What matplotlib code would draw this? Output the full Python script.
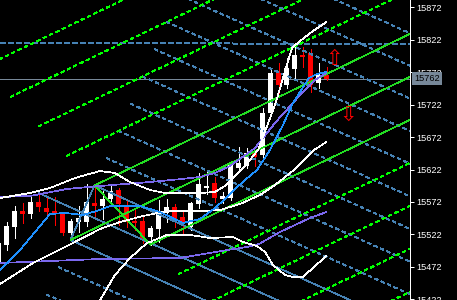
import matplotlib
matplotlib.use("Agg")
import matplotlib.pyplot as plt
import matplotlib.transforms as mtransforms
import numpy as np

# ---------------- data (bar index, prices) ----------------
opens = [15479.5, 15505.7, 15533.4, 15558.0, 15553.4, 15571.9, 15562.7, 15558.0, 15553.4, 15524.2,
         15541.1, 15541.1, 15570.4, 15565.8, 15576.5, 15590.4, 15567.3, 15542.6, 15542.6, 15518.0,
         15530.3, 15555.0, 15564.2, 15548.8, 15533.4, 15568.8, 15593.5, 15601.2, 15576.5, 15578.1,
         15624.3, 15627.4, 15647.4, 15644.4, 15709.1, 15770.7, 15752.2, 15776.9, 15798.5, 15801.5,
         15755.3, 15767.6]
highs = [15513.4, 15541.1, 15565.8, 15570.4, 15581.2, 15585.8, 15578.1, 15579.6, 15556.5, 15545.7,
         15565.8, 15599.7, 15597.4, 15592.0, 15596.6, 15593.5, 15575.0, 15562.7, 15548.8, 15534.9,
         15575.0, 15576.5, 15568.8, 15559.6, 15571.9, 15616.6, 15619.7, 15610.5, 15587.3, 15632.0,
         15656.7, 15655.1, 15652.1, 15716.8, 15778.4, 15786.1, 15793.8, 15817.0, 15810.8, 15807.7,
         15786.1, 15780.0]
lows = [15470.2, 15497.9, 15516.4, 15539.6, 15547.3, 15558.0, 15547.3, 15536.5, 15521.1, 15513.4,
        15525.7, 15534.9, 15545.7, 15545.7, 15570.4, 15536.5, 15533.4, 15528.8, 15508.7, 15506.4,
        15510.3, 15541.1, 15533.4, 15524.2, 15528.8, 15562.7, 15584.2, 15571.9, 15570.4, 15575.0,
        15621.3, 15624.3, 15627.4, 15639.7, 15706.0, 15739.9, 15747.6, 15760.0, 15780.0, 15741.4,
        15747.6, 15760.0]
closes = [15508.7, 15534.9, 15558.0, 15553.4, 15571.9, 15564.2, 15556.5, 15555.0, 15524.2, 15542.6,
          15547.3, 15571.9, 15565.8, 15576.5, 15588.9, 15568.8, 15541.1, 15539.6, 15513.4, 15531.9,
          15555.0, 15564.2, 15545.7, 15538.0, 15570.4, 15599.7, 15596.6, 15578.1, 15581.2, 15629.0,
          15632.0, 15647.4, 15641.3, 15709.1, 15770.7, 15752.2, 15778.4, 15798.5, 15795.4, 15752.2,
          15767.6, 15762.0]

# fast moving average (dodger blue)
ma_x = [0.19, 2.69, 5.19, 6.44, 8.31, 10.56, 12.69, 13.94, 17.69, 20.19, 23.06, 25.19, 27.06,
        28.31, 29.56, 30.81, 32.31, 33.94, 35.56, 36.81, 37.69, 38.81, 39.81, 41.0]
ma_y = [15467.1, 15497.9, 15534.9, 15553.4, 15555.0, 15551.9, 15559.6, 15565.8, 15565.8, 15556.5,
        15539.6, 15545.7, 15562.7, 15576.5, 15592.0, 15605.8, 15621.3, 15652.1, 15690.6, 15724.5,
        15741.4, 15763.0, 15769.2, 15772.3]

# Bollinger bands (white)
bb_up_x = [0.19, 3.94, 6.44, 9.56, 12.69, 14.56, 16.44, 18.94, 20.81, 25.19, 27.06, 28.31, 29.56,
           30.81, 32.44, 34.56, 36.69, 37.69, 39.31, 41.0]
bb_up_y = [15578.1, 15585.8, 15593.5, 15608.9, 15619.7, 15616.6, 15602.7, 15590.4, 15585.8, 15585.8,
           15587.3, 15596.6, 15612.0, 15627.4, 15652.1, 15721.4, 15809.2, 15820.0, 15835.4, 15849.3]
bb_mid_x = [0.19, 4.31, 8.56, 12.69, 15.19, 18.06, 21.06, 25.19, 27.69, 30.19, 32.69, 34.56, 36.94,
            39.44, 41.0]
bb_mid_y = [15445.6, 15477.9, 15504.1, 15530.3, 15541.1, 15550.3, 15558.0, 15558.0, 15559.6, 15568.8,
            15582.7, 15598.1, 15621.3, 15652.1, 15664.4]
bb_lo_x = [8.94, 11.44, 12.69, 14.56, 16.44, 18.56, 21.06, 23.94, 26.44, 29.31, 30.56, 32.31, 33.31,
           34.31, 35.81, 36.81, 38.06, 39.56, 41.0]
bb_lo_y = [15328.4, 15397.8, 15420.9, 15459.4, 15485.6, 15508.7, 15521.1, 15521.1, 15516.4, 15518.0,
           15510.3, 15504.1, 15494.9, 15474.8, 15459.4, 15456.4, 15456.4, 15473.3, 15488.7]

# second envelope (purple)
env_up_x = [0.19, 3.94, 8.56, 12.69, 18.94, 22.94, 25.19, 27.06, 28.94, 32.06, 34.56, 37.69, 39.56, 41.0]
env_up_y = [15579.6, 15581.2, 15592.0, 15596.6, 15602.7, 15607.4, 15610.5, 15616.6, 15627.4, 15655.1,
            15693.7, 15736.8, 15760.0, 15770.7]
env_lo_x = [0.19, 12.69, 22.69, 28.56, 31.06, 32.56, 35.19, 38.94, 41.0]
env_lo_y = [15477.9, 15484.1, 15485.6, 15497.9, 15502.6, 15507.2, 15525.7, 15547.3, 15556.5]

# pitchfork anchors (bar index, price)
green_pf_idx = [9, 12, 19]
green_pf_price = [lows[9], highs[12], lows[19]]
blue_pf_idx = [5, 9, 12]
blue_pf_price = [highs[5], lows[9], highs[12]]
green_levels = [-5, -4, -3, -2, 2, 3, 4, 5]
blue_levels = [-3, -2, 2, 3, 4, 5, 6, 7, 8, 9, 10]

# horizontal-ish dashed level and current price
hline_x = [0.19, 51.4]
hline_y = [15817.7, 15815.0]
last_price = 15762

# arrows
arrow_idx = [42.0, 43.75]
arrow_price = [15792.3, 15706.0]
arrow_dir = ["up", "down"]

y_ticks = list(range(15422, 15873, 50))

# ---------------- drawing ----------------
plt.rcParams["lines.antialiased"] = False
plt.rcParams["patch.antialiased"] = False
PX = 0.5   # thin one-pixel lines
DOT = (0, (5.0, 5.0))
DASH = (0, (8.0, 4.0))

W, H = 457, 300
fig = plt.figure(figsize=(W / 100, H / 100), dpi=100, facecolor="black")
ax = fig.add_axes([0, 0, 410 / W, 1])
ax.set_facecolor("black")
XL = (0.1875, 51.4375)
ax.set_xlim(*XL)
ax.set_ylim(15420.9, 15883.2)

idx = np.arange(len(opens))
o = np.array(opens); c = np.array(closes)
col = np.where(c >= o, "#FFFFFF", "#FF0000")
ax.vlines(idx, lows, highs, colors=col, lw=0.72, zorder=2)
bot = np.minimum(o, c)
hgt = np.maximum(np.abs(c - o), 1.6)
ax.bar(idx, hgt, bottom=bot, width=0.74, color=col, lw=0, zorder=2)

# price line
ax.axhline(last_price, color="#778899", lw=0.72, zorder=1)
ax.plot(hline_x, hline_y, color="#4682B4", lw=PX, ls=DASH, zorder=1)

x_end = 60.0


def pitchfork(ids, prs, solid_col, dot_col, levels):
    A = np.array([ids[0], prs[0]], float)
    B = np.array([ids[1], prs[1]], float)
    C = np.array([ids[2], prs[2]], float)
    M = (B + C) / 2
    slope = (M[1] - A[1]) / (M[0] - A[0])
    half = (C - B) / 2

    def ray(P, color, ls="-"):
        ax.plot([P[0], x_end], [P[1], P[1] + slope * (x_end - P[0])],
                color=color, lw=PX, ls=ls, zorder=3)

    ray(A, solid_col)
    ray(B, solid_col)
    ray(C, solid_col)
    ax.plot([B[0], C[0]], [B[1], C[1]], color=solid_col, lw=PX, zorder=3)
    for u in levels:
        ray(M + u * half, dot_col, DOT)


pitchfork(blue_pf_idx, blue_pf_price, "#4682B4", "#4682B4", blue_levels)
pitchfork(green_pf_idx, green_pf_price, "#22DD22", "#00FF00", green_levels)

ax.plot(env_up_x, env_up_y, color="#7B68EE", lw=PX, zorder=4)
ax.plot(env_lo_x, env_lo_y, color="#7B68EE", lw=PX, zorder=4)
ax.plot(bb_up_x, bb_up_y, color="#FFFFFF", lw=PX, zorder=4)
ax.plot(bb_mid_x, bb_mid_y, color="#FFFFFF", lw=PX, zorder=4)
ax.plot(bb_lo_x, bb_lo_y, color="#FFFFFF", lw=PX, zorder=4)
ax.plot(ma_x, ma_y, color="#1E90FF", lw=PX, zorder=4)

for xi, yi, d in zip(arrow_idx, arrow_price, arrow_dir):
    ax.text(xi, yi, "\u21E7" if d == "up" else "\u21E9", color="#FF0000",
            fontsize=15, ha="center", va="center", family="DejaVu Sans", zorder=5)

# axes styling
for s in ("left", "top", "bottom"):
    ax.spines[s].set_visible(False)
ax.spines["right"].set_color("white")
ax.spines["right"].set_linewidth(0.72)
ax.set_xticks([])
ax.yaxis.tick_right()
ax.set_yticks(y_ticks)
ax.set_yticklabels([str(v) for v in y_ticks], family="Liberation Sans")
ax.tick_params(axis="y", colors="white", direction="out", length=3, width=0.72,
               pad=1.5, labelsize=6.6)

trans = mtransforms.blended_transform_factory(ax.transAxes, ax.transData)
ax.text(1 + 4.5 / 410, last_price, str(last_price), transform=trans, color="black",
        fontsize=6.6, family="Liberation Sans", ha="left", va="center", clip_on=False,
        zorder=10, bbox=dict(boxstyle="square,pad=0.22", fc="#778899", ec="none"))

fig.savefig("out.png", dpi=100, facecolor="black")
